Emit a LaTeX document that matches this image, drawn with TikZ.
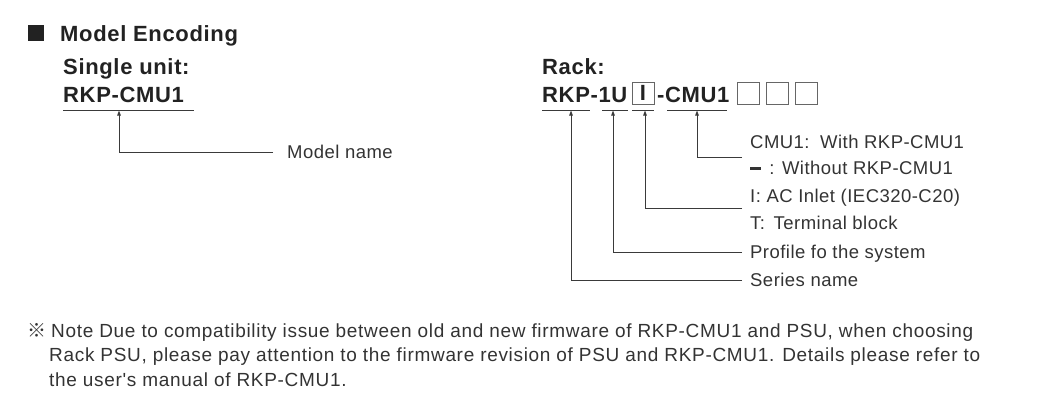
\documentclass[tikz,border=0pt]{standalone}
\usepackage{fontspec}
\setmainfont{Liberation Sans}
\newfontfamily\cjk{Noto Sans CJK SC}
\newfontfamily\hfont[LetterSpace=3]{Liberation Sans}
\newfontfamily\lfont[LetterSpace=2.5]{Liberation Sans}
\newfontfamily\nfont[LetterSpace=3.6]{Liberation Sans}
\usetikzlibrary{arrows.meta}
\definecolor{ink}{HTML}{222222}
\definecolor{txt}{HTML}{333333}
\definecolor{ln}{HTML}{3a3a3a}
\tikzset{
  head/.style={font=\hfont\fontsize{22}{24}\selectfont\bfseries, text=ink, inner sep=0pt, anchor=base west},
  lbl/.style={font=\lfont\fontsize{18.5}{22}\selectfont, text=txt, anchor=west, inner ysep=0pt, inner xsep=8pt, text height=13pt, text depth=0pt},
  note/.style={font=\nfont\fontsize{19}{22}\selectfont, text=txt, inner sep=0pt, anchor=base west},
  uline/.style={draw=ln, line width=0.9pt},
  conn/.style={draw=ln, line width=0.9pt, -{Triangle[length=5pt,width=3.5pt]}},
  sq/.style={draw=black!60, line width=1pt, minimum width=22pt, minimum height=22pt, inner sep=0pt}
}
\begin{document}
\begin{tikzpicture}[x=1pt,y=-1pt]
\useasboundingbox (0,0) rectangle (1039,402);
% heading
\fill[ink] (28,25) rectangle (44,41);
\node[head] (title) at (60,41) {Model Encoding};
% single unit
\node[head] (single) at (63,74) {Single unit:};
\node[head] (cmu) at (63,102) {RKP-CMU1};
\draw[uline] (63,110) -- (194,110);
\coordinate (t0) at (119,110.5);
\node[lbl, inner xsep=14pt] (mname) at (273,152) {Model name};
\draw[conn] (mname.west) -| (t0);
% rack
\node[head] (rack) at (542,74) {Rack:};
\node[head] (rkp) at (542,102) {RKP-1U};
\node[sq, text=ink, font=\fontsize{22}{24}\selectfont\bfseries] (ibox) at (643,93) {I};
\node[head] (cmuone) at (657,102) {-CMU1};
\node[sq] (s1) at (748,93) {};
\node[sq] (s2) at (777,93) {};
\node[sq] (s3) at (806,93) {};
\draw[uline] (542,110) -- (590,110);
\draw[uline] (602,110) -- (628,110);
\draw[uline] (632,110) -- (654,110);
\draw[uline] (667,110) -- (727,110);
\coordinate (t1) at (571,110.5);
\coordinate (t2) at (613,110.5);
\coordinate (t3) at (645,110.5);
\coordinate (t4) at (697,110.5);
% labels
\node[lbl] (l1) at (742,142) {CMU1:\, With RKP-CMU1};
\node[lbl] (l2) at (742,168) {\rule[5pt]{11pt}{2.2pt}\;\,: Without RKP-CMU1};
\node[lbl] (l3) at (742,196) {I: AC Inlet (IEC320-C20)};
\node[lbl] (l4) at (742,223) {T:\, Terminal block};
\node[lbl] (l5) at (742,252) {Profile fo the system};
\node[lbl] (l6) at (742,280) {Series name};
\coordinate (j4) at (742,157);
\coordinate (j3) at (742,208);
\draw[conn] (j4) -| (t4);
\draw[conn] (j3) -| (t3);
\draw[conn] (l5.west) -| (t2);
\draw[conn] (l6.west) -| (t1);
% note
\node[note] (mark) at (27,337) {{\cjk ※}};
\node[note] (n1) at (51,337) {Note Due to compatibility issue between old and new firmware of RKP-CMU1 and PSU, when choosing};
\node[note] (n2) at (49,361) {Rack PSU, please pay attention to the firmware revision of PSU and RKP-CMU1. Details please refer to};
\node[note] (n3) at (49,386) {the user{\char"0027}s manual of RKP-CMU1.};
\end{tikzpicture}
\end{document}
